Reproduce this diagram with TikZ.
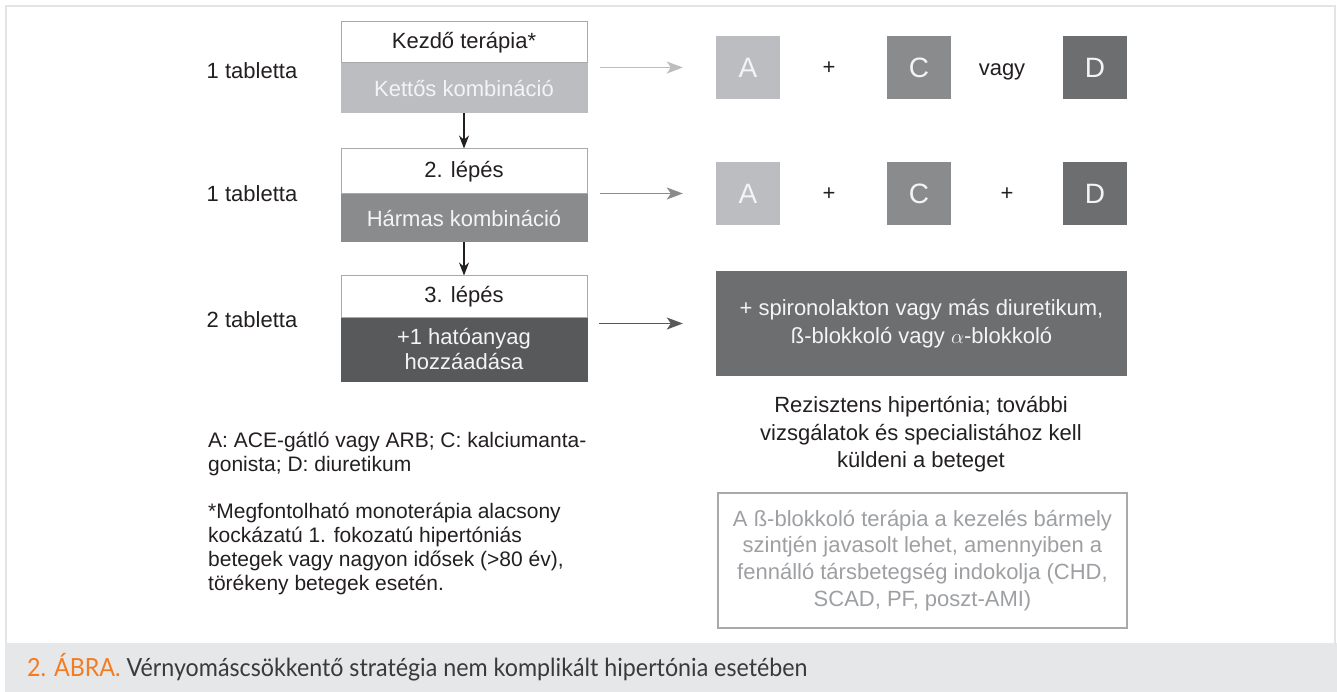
\documentclass[tikz,border=0pt]{standalone}
\usepackage{amsmath}
\usepackage{fontspec}
\setmainfont{Liberation Sans}
\newfontfamily\feliratfont[FakeStretch=0.93]{Lato}
\usetikzlibrary{positioning,arrows.meta}
\definecolor{keret}{HTML}{E4E4E4}
\definecolor{savszin}{HTML}{E6E7E9}
\definecolor{narancs}{HTML}{F47B20}
\definecolor{fekete}{HTML}{231F20}
\definecolor{feliratszin}{HTML}{3A3A3C}
\definecolor{vonal}{HTML}{A7A9AC}
\definecolor{szurkeA}{HTML}{BCBDC0}
\definecolor{szurkeC}{HTML}{8A8B8D}
\definecolor{szurkeD}{HTML}{6D6E70}
\definecolor{sotet}{HTML}{58595B}
\definecolor{halvany}{HTML}{9D9FA2}
\definecolor{feher}{HTML}{F4F4F4}
\tikzset{
    felso/.style={draw=vonal,fill=white,line width=1pt,minimum width=246pt,inner sep=0pt,text=fekete},
    also/.style={draw=#1,fill=#1,line width=1pt,minimum width=246pt,inner sep=0pt,text=feher,align=center,
                 font=\fontsize{22}{25}\selectfont},
    negyzet/.style={fill=#1,minimum width=64pt,minimum height=63pt,inner sep=0pt,text=feher,
                    font=\fontsize{28}{30}\selectfont},
    lefele/.style={-{Stealth[length=13pt,width=10pt]},line width=1.2pt,draw=fekete},
    jobbra/.style={-{Stealth[length=16pt,width=12pt,inset=4pt]},line width=1.7pt,draw=#1},
    szoveg/.style={inner sep=0pt,text=fekete,align=center}
}
\begin{document}
\begin{tikzpicture}[x=1pt,y=-1pt,font=\fontsize{22}{27.5}\selectfont]
                \useasboundingbox (0,0) rectangle (1337,692);
                \draw[keret,line width=1.6pt] (6,650) -- (6,6) -- (1335,6) -- (1335,650);
                \fill[savszin] (5,643) rectangle (1337,692);
                \node[szoveg] (t1) at (252,71) {1 tabletta};
                \node[szoveg] (t2) at (252,194) {1 tabletta};
                \node[szoveg] (t3) at (252,320) {2 tabletta};
                \node[felso,minimum height=41pt] (k1) at (464,42.5) {Kezdő terápia*};
                \node[also=szurkeA,minimum height=49pt] (k1a)[below=0pt of k1] {Kettős kombináció};
                \node[felso,minimum height=45pt] (k2)[below=35pt of k1a] {2. lépés};
                \node[also=szurkeC,minimum height=47pt] (k2a)[below=0pt of k2] {Hármas kombináció};
                \node[felso,minimum height=41pt] (k3)[below=33pt of k2a] {3. lépés};
                \node[also=sotet,minimum height=63pt] (k3a)[below=0pt of k3] {+1 hatóanyag\\hozzáadása};
                \node[negyzet=szurkeA] (a1) at (748,67.5) {A};
                \node[szoveg] (p1) at (829,68) {+};
                \node[negyzet=szurkeC] (c1) at (919,67.5) {C};
                \node[szoveg,anchor=base] (v1) at (1002,76) {vagy};
                \node[negyzet=szurkeD] (d1) at (1095,67.5) {D};
                \node[negyzet=szurkeA] (a2) at (748,193.5) {A};
                \node[szoveg] (p2) at (829,194) {+};
                \node[negyzet=szurkeC] (c2) at (919,193.5) {C};
                \node[szoveg] (p3) at (1007,194) {+};
                \node[negyzet=szurkeD] (d2) at (1095,193.5) {D};
                \node[fill=szurkeD,text=feher,align=center,minimum width=411pt,minimum height=105pt,inner sep=0pt]
                    (nagy) at (921.5,323.5) {+ spironolakton vagy más diuretikum,\\ß-blokkoló vagy $\alpha$-blokkoló};
                \node[szoveg] (rez) at (921,434.5) {Rezisztens hipertónia; további\\vizsgálatok és specialistához kell\\küldeni a beteget};
                \node[draw=vonal,line width=1.2pt,text=halvany,align=center,minimum width=409pt,minimum height=135pt,inner sep=0pt,
                      font=\fontsize{22}{26.7}\selectfont] (megj) at (922.5,560.5)
                      {A ß-blokkoló terápia a kezelés bármely\\szintjén javasolt lehet, amennyiben a\\fennálló társbetegség indokolja (CHD,\\SCAD, PF, poszt-AMI)};
                \node[szoveg,anchor=west,align=left,font=\fontsize{21}{24}\selectfont] (jel) at (208,453.5)
                      {A: ACE-gátló vagy ARB; C: kalciumanta-\\gonista; D: diuretikum};
                \node[szoveg,anchor=west,align=left,font=\fontsize{21}{24}\selectfont] (csillag) at (208,549)
                      {*Megfontolható monoterápia alacsony\\kockázatú 1. fokozatú hipertóniás\\betegek vagy nagyon idősek (>80 év),\\törékeny betegek esetén.};
                \node[anchor=west,inner sep=0pt,font=\feliratfont\fontsize{25}{28}\selectfont] (felirat) at (27,667)
                      {\textcolor{narancs}{2. ÁBRA.} \textcolor{feliratszin}{Vérnyomáscsökkentő stratégia nem komplikált hipertónia esetében}};
                \draw[lefele] (k1a) -- (k2);
                \draw[lefele] (k2a) -- (k3);
                \draw[jobbra=szurkeA] ([xshift=12pt]k1a.east |- a1.west) -- ([xshift=-33pt]a1.west);
                \draw[jobbra=szurkeC] ([xshift=12pt]k2a.east |- a2.west) -- ([xshift=-33pt]a2.west);
                \draw[jobbra=sotet] ([xshift=11pt]k3a.east |- nagy.west) -- ([xshift=-33pt]nagy.west);
            \end{tikzpicture}
\end{document}
